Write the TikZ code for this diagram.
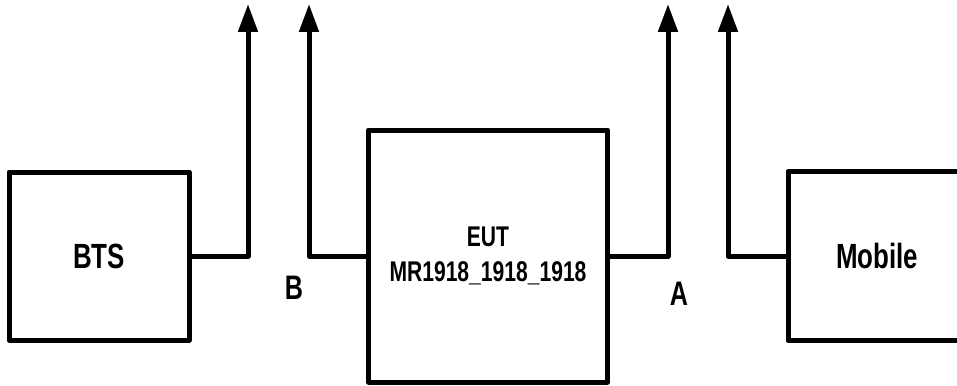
\documentclass[tikz,border=0pt]{standalone}
\usepackage{fontspec}
\setmainfont{Liberation Sans}[FakeStretch=0.74]
\usetikzlibrary{arrows.meta}
\tikzset{
  blk/.style={draw=black, line width=5pt, line join=round, fill=white, inner sep=0pt,
    font=\fontsize{35}{40}\selectfont\bfseries, align=center},
  eutblk/.style={blk, font=\fontsize{28.5}{35}\selectfont\bfseries},
  conn/.style={draw=black, line width=5pt, line join=round,
    -{Triangle[length=28pt,width=19pt]}},
  lbl/.style={font=\fontsize{34}{40}\selectfont\bfseries, inner sep=0pt}
}
\begin{document}
\begin{tikzpicture}[x=1pt,y=-1pt]
\useasboundingbox (0,0) rectangle (957,385);
\clip (0,0) rectangle (957,385);
\node[blk, minimum width=180pt, minimum height=168pt] (bts) at (99,256) {BTS};
\node[eutblk, minimum width=239pt, minimum height=252pt] (eut) at (488,256) {EUT\\MR1918\_1918\_1918};
\node[blk, minimum width=178pt, minimum height=169pt] (mob) at (877,256) {Mobile};
\coordinate (t1) at (248,4);
\coordinate (t2) at (309,4);
\coordinate (t3) at (668,4);
\coordinate (t4) at (728,4);
\draw[conn] (bts.east) -| (t1);
\draw[conn] (eut.west) -| (t2);
\draw[conn] (eut.east) -| (t3);
\draw[conn] (mob.west) -| (t4);
\node[lbl] (lb) at (294,288) {B};
\node[lbl] (la) at (679,294) {A};
\end{tikzpicture}
\end{document}
